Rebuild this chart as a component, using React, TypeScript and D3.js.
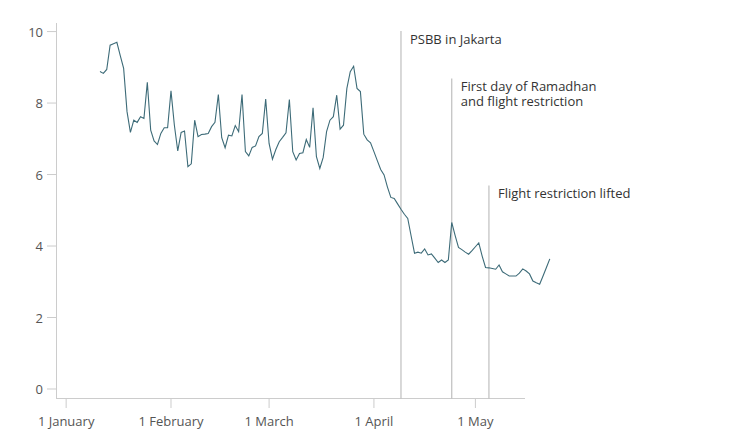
import React from 'react';
import * as d3 from 'd3';

// ---- data ----
const seriesStart = new Date(2020, 0, 11);
const values: number[] = [
  8.88, 8.83, 8.94, 9.62, 9.66, 9.70, 9.33, 8.97, 7.76, 7.18,
  7.52, 7.46, 7.62, 7.57, 8.58, 7.24, 6.94, 6.84, 7.15, 7.31,
  7.31, 8.34, 7.38, 6.66, 7.18, 7.22, 6.22, 6.30, 7.52, 7.06,
  7.12, 7.13, 7.15, 7.34, 7.46, 8.24, 7.03, 6.75, 7.10, 7.08,
  7.37, 7.20, 8.24, 6.64, 6.52, 6.76, 6.80, 7.06, 7.15, 8.11,
  6.87, 6.43, 6.70, 6.92, 7.04, 7.17, 8.10, 6.64, 6.41, 6.59,
  6.61, 6.98, 6.76, 7.87, 6.50, 6.17, 6.48, 7.20, 7.52, 7.62,
  8.22, 7.27, 7.38, 8.41, 8.88, 9.03, 8.41, 8.32, 7.13, 6.97,
  6.89, 6.64, 6.39, 6.14, 5.99, 5.65, 5.36, 5.33, 5.18, 5.03,
  4.89, 4.77, 4.28, 3.80, 3.83, 3.80, 3.92, 3.75, 3.78, 3.66,
  3.54, 3.61, 3.54, 3.61, 4.66, 4.30, 3.96, 3.90, 3.83, 3.77,
  3.87, 3.98, 4.09, 3.72, 3.40, 3.39, 3.37, 3.35, 3.47, 3.28,
  3.22, 3.16, 3.16, 3.16, 3.24, 3.36, 3.30, 3.22, 3.02, 2.97,
  2.93, 3.16, 3.40, 3.64,
];
const yTicks = [0, 2, 4, 6, 8, 10];
const xTickDates = [
  new Date(2020, 0, 1),
  new Date(2020, 1, 1),
  new Date(2020, 2, 1),
  new Date(2020, 3, 1),
  new Date(2020, 4, 1),
];
const xTickLabels = ['1 January', '1 February', '1 March', '1 April', '1 May'];
const annotationDates = [new Date(2020, 3, 9), new Date(2020, 3, 24), new Date(2020, 4, 5)];
const annotationLabels = [
  ['PSBB in Jakarta'],
  ['First day of Ramadhan', 'and flight restriction'],
  ['Flight restriction lifted'],
];

// ---- layout ----
const W = 736;
const H = 443;
const annLabelY = [39, 86.5, 193.5];
const FONT = "'Open Sans', 'Noto Sans', sans-serif";

export default function App() {
  const x = d3
    .scaleTime()
    .domain([new Date(2019, 11, 29), new Date(2020, 4, 15, 16)])
    .range([56, 525]);
  const y = d3.scaleLinear().domain([-0.28, 10.24]).range([399, 23]);

  const points = values.map((v, i) => ({ date: d3.timeDay.offset(seriesStart, i), v }));
  const line = d3
    .line<{ date: Date; v: number }>()
    .x((d) => x(d.date))
    .y((d) => y(d.v));

  const [x0, x1] = x.range();
  const [yb, yt] = y.range();

  return (
    <svg
      width={W}
      height={H}
      style={{ position: 'absolute', left: 0, top: 0, background: '#fff' }}
      fontFamily={FONT}
    >
      {/* axes */}
      <line x1={x0} x2={x1} y1={yb - 0.5} y2={yb - 0.5} stroke="#cccccc" strokeWidth={1} />
      <line x1={x0 + 0.5} x2={x0 + 0.5} y1={yt} y2={yb} stroke="#cccccc" strokeWidth={1} />
      {yTicks.map((t) => (
        <g key={t}>
          <line x1={x0 - 9} x2={x0} y1={y(t)} y2={y(t)} stroke="#cccccc" strokeWidth={1} />
          <text
            x={x0 - 13}
            y={y(t)}
            textAnchor="end"
            dominantBaseline="central"
            fontSize={13}
            fill="#555"
          >
            {t}
          </text>
        </g>
      ))}
      {xTickDates.map((d, i) => (
        <g key={i}>
          <line
            x1={x(d)}
            x2={x(d)}
            y1={yb}
            y2={yb + 9}
            stroke="#cccccc"
            strokeWidth={1}
          />
          <text
            x={x(d)}
            y={421}
            textAnchor="middle"
            dominantBaseline="central"
            fontSize={13}
            fill="#555"
          >
            {xTickLabels[i]}
          </text>
        </g>
      ))}

      {/* annotations */}
      {annotationDates.map((d, i) => (
        <g key={i}>
          <line
            x1={x(d)}
            x2={x(d)}
            y1={annLabelY[i] - 8}
            y2={yb}
            stroke="#c4c4c4"
            strokeWidth={1.3}
          />
          {annotationLabels[i].map((s, j) => (
            <text
              key={j}
              x={x(d) + 9}
              y={annLabelY[i] + 4.5 + j * 15}
              fontSize={13}
              fill="#333"
            >
              {s}
            </text>
          ))}
        </g>
      ))}

      {/* series */}
      <path d={line(points) || ''} fill="none" stroke="#3d6b78" strokeWidth={1.1} />
    </svg>
  );
}
